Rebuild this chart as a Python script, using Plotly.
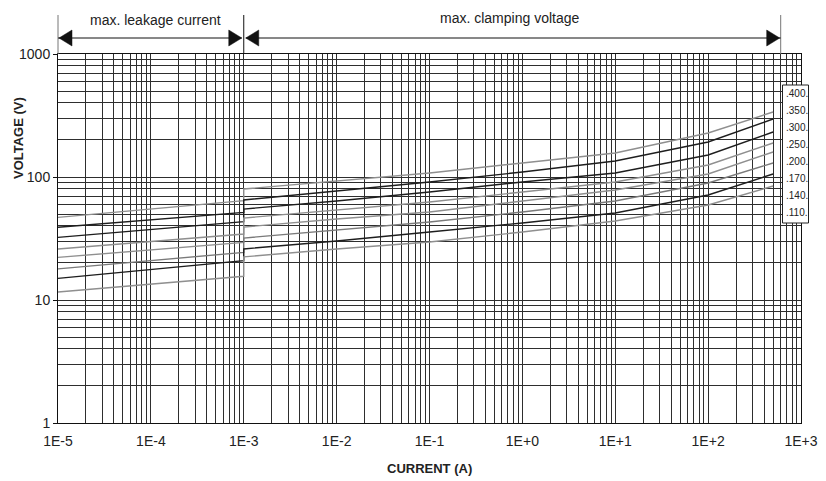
import plotly.graph_objects as go

# ---------------- data ----------------
ratings = ["400", "350", "300", "250", "200", "170", "140", "110"]
line_colors = ["#8f8f8f", "#1e1e1e", "#1e1e1e", "#8f8f8f", "#8f8f8f", "#7a7a7a", "#1e1e1e", "#8f8f8f"]

leak_current = [1e-5, 1e-4, 1e-3]
clamp_current = [1e-3, 1e-2, 1e-1, 1, 10, 100, 500]

leak_400 = [47.0, 54.9, 64.2]
leak_350 = [39.0, 44.9, 51.6]
leak_300 = [32.3, 37.4, 43.3]
leak_250 = [26.0, 29.9, 34.4]
leak_200 = [22.2, 25.6, 29.4]
leak_170 = [17.9, 20.9, 24.4]
leak_140 = [15.0, 17.7, 20.9]
leak_110 = [11.6, 13.4, 15.6]

clamp_400 = [79.9, 92.8, 107.8, 130.0, 156.7, 227.9, 337.7]
clamp_350 = [65.0, 76.9, 91.1, 109.8, 134.9, 192.6, 296.1]
clamp_300 = [54.9, 63.8, 75.5, 91.1, 107.8, 151.0, 232.2]
clamp_250 = [46.4, 53.9, 62.6, 75.5, 91.1, 125.2, 189.0]
clamp_200 = [39.2, 45.6, 51.9, 63.8, 78.4, 105.8, 159.7]
clamp_170 = [31.9, 37.1, 43.1, 51.9, 63.8, 89.4, 130.0]
clamp_140 = [26.0, 30.2, 35.7, 42.3, 51.0, 71.4, 105.8]
clamp_110 = [22.4, 26.0, 29.6, 35.7, 43.9, 59.2, 84.5]

x_tickvals = [1e-5, 1e-4, 1e-3, 1e-2, 1e-1, 1, 10, 100, 1000]
x_ticktext = ["1E-5", "1E-4", "1E-3", "1E-2", "1E-1", "1E+0", "1E+1", "1E+2", "1E+3"]
y_tickvals = [1, 10, 100, 1000]
y_ticktext = ["1", "10", "100", "1000"]

leak_sets = [leak_400, leak_350, leak_300, leak_250, leak_200, leak_170, leak_140, leak_110]
clamp_sets = [clamp_400, clamp_350, clamp_300, clamp_250, clamp_200, clamp_170, clamp_140, clamp_110]

# ---------------- figure ----------------
OFF = 8  # default page body margin
W, H = 826 - OFF, 481 - OFF
# plot area in page pixels: left 58, right 801, top 54, bottom 423
ML, MT = 58 - OFF, 54 - OFF
MR = W - (801 - OFF)
MB = H - (423 - OFF)
PW, PH = W - ML - MR, H - MT - MB

def px(xp):  # page pixel -> paper
    return (xp - OFF - ML) / PW

def py(yp):
    return (H - MB - (yp - OFF)) / PH

FONT = "Liberation Sans, Arial, sans-serif"

fig = go.Figure()
for name, col, lv, cv in zip(ratings, line_colors, leak_sets, clamp_sets):
    fig.add_trace(go.Scatter(
        x=leak_current + clamp_current,
        y=lv + cv,
        mode="lines",
        line=dict(color=col, width=1.4),
        name=name,
        showlegend=False,
        hoverinfo="skip",
    ))

x_minor = [k * 10.0 ** e for e in range(-5, 3) for k in range(2, 10)]
y_minor = [k * 10.0 ** e for e in range(0, 3) for k in range(2, 10)]

grid_col = "#2e2e2e"

fig.update_xaxes(
    type="log", range=[-5, 3], automargin=False,
    tickmode="array", tickvals=x_tickvals, ticktext=x_ticktext,
    showgrid=True, gridcolor=grid_col, gridwidth=1,
    minor=dict(tickmode="array", tickvals=x_minor, showgrid=True, gridcolor=grid_col, gridwidth=1, ticks=""),
    showline=True, linecolor="#111", linewidth=1, mirror=True,
    ticks="", zeroline=False, ticklabelstandoff=5,
    tickfont=dict(family=FONT, size=14, color="#222"),
)
fig.update_yaxes(
    type="log", range=[0, 3], automargin=False,
    tickmode="array", tickvals=y_tickvals, ticktext=y_ticktext,
    showgrid=True, gridcolor=grid_col, gridwidth=1,
    minor=dict(tickmode="array", tickvals=y_minor, showgrid=True, gridcolor=grid_col, gridwidth=1, ticks=""),
    showline=True, linecolor="#111", linewidth=1, mirror=True,
    ticks="outside", ticklen=4, tickcolor="#111",
    zeroline=False,
    tickfont=dict(family=FONT, size=14, color="#222"),
)

shapes = []
annotations = []

def text_ann(text, x, y, size, angle=0, xanchor="center"):
    return dict(text=text, xref="paper", yref="paper", x=x, y=y, showarrow=False,
                xanchor=xanchor, yanchor="middle", textangle=angle,
                font=dict(family=FONT, size=size, color="#222"))

# axis titles
annotations.append(text_ann("<b>CURRENT (A)</b>", px(430), py(468), 13))
annotations.append(text_ann("<b>VOLTAGE (V)</b>", px(18), py(138), 13, angle=-90))

# divider lines above plot
x_left = 0.0
x_mid = (-3 + 5) / 8.0
x_right = px(780.7)
for xv, col in [(x_left, "#777"), (x_mid, "#111"), (x_right, "#777")]:
    shapes.append(dict(type="line", xref="paper", yref="paper", x0=xv, x1=xv,
                       y0=1.0, y1=py(15), line=dict(color=col, width=1)))

arrow_y = py(38)
ah_len = 13 / PW
ah_half = 8 / PH

def head(xtip, direction):
    xb = xtip - direction * ah_len
    return dict(type="path", xref="paper", yref="paper",
                path=f"M {xtip} {arrow_y} L {xb} {arrow_y + ah_half} L {xb} {arrow_y - ah_half} Z",
                fillcolor="#111", line=dict(color="#111", width=0.5))

# leakage arrow
shapes.append(dict(type="line", xref="paper", yref="paper", x0=x_left, x1=x_mid - 2 / PW,
                   y0=arrow_y, y1=arrow_y, line=dict(color="#111", width=1)))
shapes.append(head(x_left + 1 / PW, -1))
shapes.append(head(x_mid - 2 / PW, 1))
# clamping arrow
shapes.append(dict(type="line", xref="paper", yref="paper", x0=x_mid + 2 / PW, x1=x_right,
                   y0=arrow_y, y1=arrow_y, line=dict(color="#111", width=1)))
shapes.append(head(x_mid + 2 / PW, -1))
shapes.append(head(x_right - 1 / PW, 1))

annotations.append(text_ann("max. leakage current", px(155), py(20), 14))
annotations.append(text_ann("max. clamping voltage", px(510), py(18), 14))

# label box
shapes.append(dict(type="rect", xref="paper", yref="paper",
                   x0=px(782.5), x1=px(808.5), y0=py(223), y1=py(85),
                   fillcolor="white", line=dict(color="#222", width=1), layer="above"))
for i, name in enumerate(ratings):
    annotations.append(text_ann("." + name + ".", px(783.5), py(93.3 + i * 17.0), 10, xanchor="left"))

fig.update_layout(
    width=W, height=H,
    margin=dict(l=ML, r=MR, t=MT, b=MB),
    paper_bgcolor="white", plot_bgcolor="white",
    shapes=shapes, annotations=annotations,
    font=dict(family=FONT),
)

fig.write_html("out.html")
